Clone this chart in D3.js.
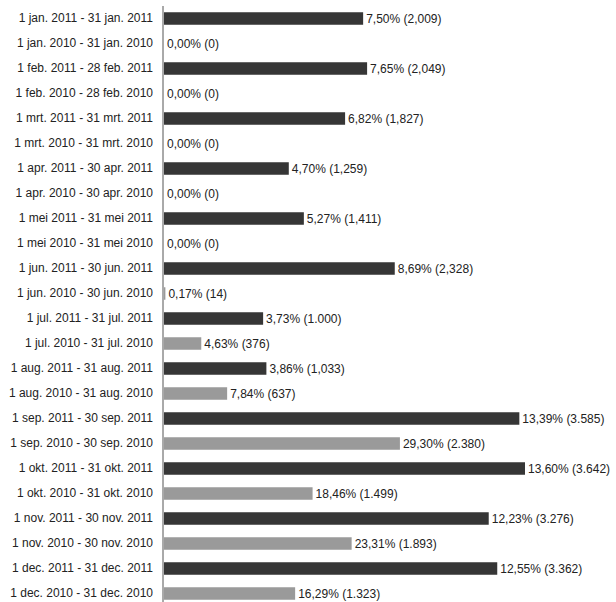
<!DOCTYPE html>
<html>
<head>
<meta charset="utf-8">
<script src="https://cdn.jsdelivr.net/npm/d3@7"></script>
<style>
  body { margin: 0; background: #fff; }
  svg text { font-family: "Liberation Sans", Arial, sans-serif; font-size: 12px; fill: #222; }
</style>
</head>
<body>
<div id="chart"></div>
<script>
// periods, top to bottom
var periods = [
  "1 jan. 2011 - 31 jan. 2011", "1 jan. 2010 - 31 jan. 2010",
  "1 feb. 2011 - 28 feb. 2011", "1 feb. 2010 - 28 feb. 2010",
  "1 mrt. 2011 - 31 mrt. 2011", "1 mrt. 2010 - 31 mrt. 2010",
  "1 apr. 2011 - 30 apr. 2011", "1 apr. 2010 - 30 apr. 2010",
  "1 mei 2011 - 31 mei 2011", "1 mei 2010 - 31 mei 2010",
  "1 jun. 2011 - 30 jun. 2011", "1 jun. 2010 - 30 jun. 2010",
  "1 jul. 2011 - 31 jul. 2011", "1 jul. 2010 - 31 jul. 2010",
  "1 aug. 2011 - 31 aug. 2011", "1 aug. 2010 - 31 aug. 2010",
  "1 sep. 2011 - 30 sep. 2011", "1 sep. 2010 - 30 sep. 2010",
  "1 okt. 2011 - 31 okt. 2011", "1 okt. 2010 - 31 okt. 2010",
  "1 nov. 2011 - 30 nov. 2011", "1 nov. 2010 - 30 nov. 2010",
  "1 dec. 2011 - 31 dec. 2011", "1 dec. 2010 - 31 dec. 2010"
];
var years = [2011, 2010, 2011, 2010, 2011, 2010, 2011, 2010, 2011, 2010, 2011, 2010,
             2011, 2010, 2011, 2010, 2011, 2010, 2011, 2010, 2011, 2010, 2011, 2010];
var counts = [2009, 0, 2049, 0, 1827, 0, 1259, 0, 1411, 0, 2328, 14,
              1000, 376, 1033, 637, 3585, 2380, 3642, 1499, 3276, 1893, 3362, 1323];
var valueLabels = [
  "7,50% (2,009)", "0,00% (0)", "7,65% (2,049)", "0,00% (0)",
  "6,82% (1,827)", "0,00% (0)", "4,70% (1,259)", "0,00% (0)",
  "5,27% (1,411)", "0,00% (0)", "8,69% (2,328)", "0,17% (14)",
  "3,73% (1.000)", "4,63% (376)", "3,86% (1,033)", "7,84% (637)",
  "13,39% (3.585)", "29,30% (2.380)", "13,60% (3.642)", "18,46% (1.499)",
  "12,23% (3.276)", "23,31% (1.893)", "12,55% (3.362)", "16,29% (1.323)"
];
var yearColors = { 2011: "#363636", 2010: "#9a9a9a" };

var width = 616, height = 602,
    margin = {top: 6, left: 163, right: 92, bottom: 0};

var svg = d3.select("#chart").append("svg")
    .attr("width", width)
    .attr("height", height);

var x = d3.scaleLinear()
    .domain([0, d3.max(counts)])
    .range([margin.left, width - margin.right]);

var y = d3.scaleBand()
    .domain(periods)
    .range([margin.top, margin.top + 25 * periods.length])
    .paddingInner(0.5)
    .paddingOuter(0.25);

// bars
svg.selectAll("rect.bar")
    .data(periods)
  .enter().append("rect")
    .attr("class", "bar")
    .attr("x", x(0) + 1)
    .attr("y", function(d) { return y(d); })
    .attr("width", function(d, i) { return Math.max(0, x(counts[i]) - x(0)); })
    .attr("height", y.bandwidth())
    .attr("fill", function(d, i) { return yearColors[years[i]]; });

// category axis
var axis = svg.append("g")
    .attr("transform", "translate(" + x(0) + ",0)")
    .call(d3.axisLeft(y).tickSize(0).tickPadding(10));
axis.select(".domain").attr("stroke", "#555").attr("d", "M0," + margin.top + "V" + height);
axis.selectAll("text").style("font-size", "12px").attr("fill", "#222");

// value labels
svg.selectAll("text.value")
    .data(periods)
  .enter().append("text")
    .attr("class", "value")
    .attr("x", function(d, i) { return x(counts[i]) + 4; })
    .attr("y", function(d) { return y(d) + y.bandwidth() / 2; })
    .attr("dy", "0.35em")
    .text(function(d, i) { return valueLabels[i]; });
</script>
</body>
</html>
